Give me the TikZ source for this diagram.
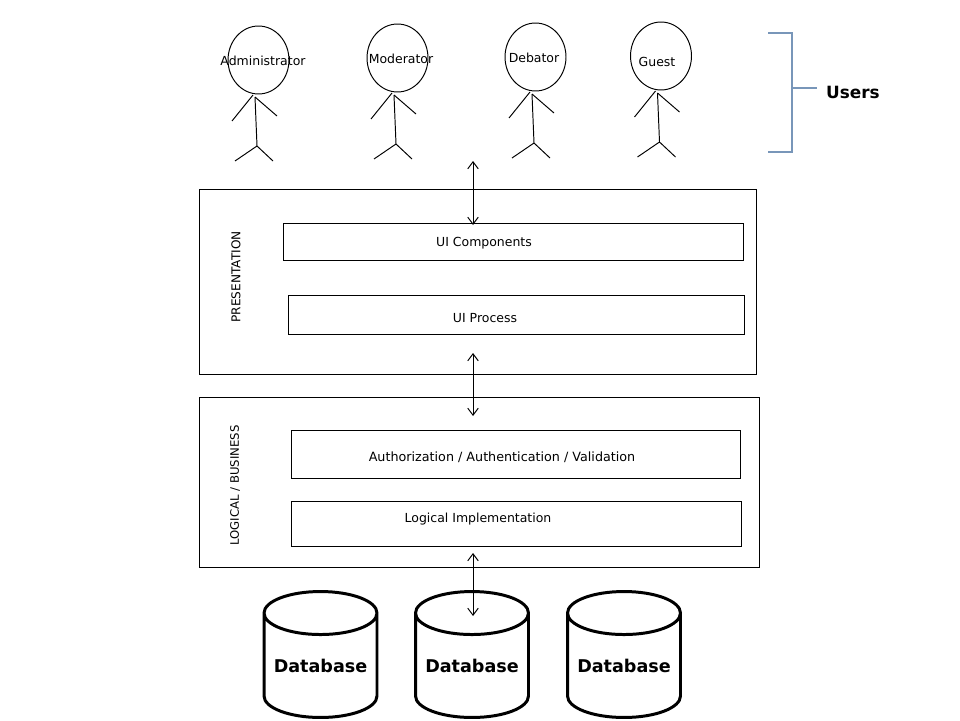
\documentclass[tikz,border=0pt]{standalone}
\usepackage{fontspec}
\setmainfont{DejaVu Sans}
\usetikzlibrary{shapes.geometric,arrows.meta}
\definecolor{bracketblue}{RGB}{120,150,185}
\tikzset{
	box/.style = {rectangle, draw, inner sep=0pt, outer sep=0pt, line width=0.55pt},
	txt/.style = {inner sep=0pt, font=\fontsize{7.1}{9}\selectfont},
	stick/.style = {line width=0.55pt},
	link/.style = {line width=0.55pt, {Straight Barb[length=4pt,width=6pt]}-{Straight Barb[length=4pt,width=6pt]}},
	db/.style = {cylinder, shape border rotate=90, draw, line width=1.7pt, aspect=0.46,
		inner sep=0pt, outer sep=0pt, minimum width=2.26cm, minimum height=2.52cm,
		font=\fontsize{10}{12}\bfseries\selectfont}
}
\begin{document}
\begin{tikzpicture}[x=0.02cm, y=-0.02cm]
\useasboundingbox (0,0) rectangle (960,720);

% users
\foreach \who/\dx/\dy/\lx/\ly/\word in {adm/0/0/263/61/Administrator,
	mod/139/-2/401/59/Moderator, deb/277/-3/534/58/Debator, gst/402.5/-4/657/62/Guest}{
	\node[ellipse, draw, stick, inner sep=0pt, outer sep=0pt,
		minimum width = 1.22cm,
		minimum height = 1.36cm] (head\who) at (258.5+\dx,60+\dy) {};
	\node[txt] (name\who) at (\lx,\ly) {\word};
	\coordinate (neck\who) at (255+\dx,97+\dy);
	\coordinate (hip\who) at (257+\dx,146+\dy);
	\draw[stick] (253+\dx,95+\dy) -- (232+\dx,121+\dy);
	\draw[stick] (neck\who) -- (277+\dx,116+\dy);
	\draw[stick] (neck\who) -- (hip\who);
	\draw[stick] (235+\dx,161+\dy) -- (hip\who) -- (273+\dx,161+\dy);
}

% bracket
\coordinate (bt) at (768,33);
\coordinate (bb) at (768,152);
\coordinate (bm) at (792,88);
\node[inner sep=0pt, font=\fontsize{9.6}{12}\bfseries\selectfont] (users) at (853,92) {Users};
\draw[bracketblue, line width=0.6pt] (bt) -- (792,33) -- (792,152) -- (bb);
\draw[bracketblue, line width=0.6pt] (bm) -- (817,88);

% presentation layer
\node[box, minimum width = 11.16cm, minimum height = 3.7cm] (pres) at (478,282) {};
\node[box, minimum width = 9.22cm, minimum height = 0.74cm] (uicomp) at (513.5,242) {};
\node[box, minimum width = 9.14cm, minimum height = 0.78cm] (uiproc) at (516.5,314.5) {};
\node[txt] (uicomptxt) at (484,243.5) {UI Components};
\node[txt] (uiproctxt) at (485,318) {UI Process};
\node[txt, rotate = 90, font=\fontsize{6.9}{9}\selectfont] (prestxt) at (236,277) {PRESENTATION};

% business layer
\node[box, minimum width = 11.22cm, minimum height = 3.4cm] (logic) at (479.5,482.5) {};
\node[box, minimum width = 9cm, minimum height = 0.96cm] (auth) at (516,454.5) {};
\node[box, minimum width = 9.02cm, minimum height = 0.9cm] (impl) at (516.5,524) {};
\node[txt, font=\fontsize{7.25}{9}\selectfont] (authtxt) at (502,457) {Authorization / Authentication / Validation};
\node[txt] (impltxt) at (478,519) {Logical Implementation};
\node[txt, rotate = 90, font=\fontsize{6.65}{9}\selectfont] (logictxt) at (235,485.5) {LOGICAL / BUSINESS};

% databases
\foreach \i/\x in {1/320.5, 2/472, 3/624}{
	\node[db] (db\i) at (\x,666) {Database};
}

% links
\coordinate (a1) at (473,161);
\coordinate (a2) at (473,225);
\coordinate (b1) at (473,353);
\coordinate (b2) at (473,416);
\coordinate (c1) at (473,553);
\coordinate (c2) at (473,616);
\draw[link] (a1) -- (a2);
\draw[link] (b1) -- (b2);
\draw[link] (c1) -- (c2);
\end{tikzpicture}
\end{document}
